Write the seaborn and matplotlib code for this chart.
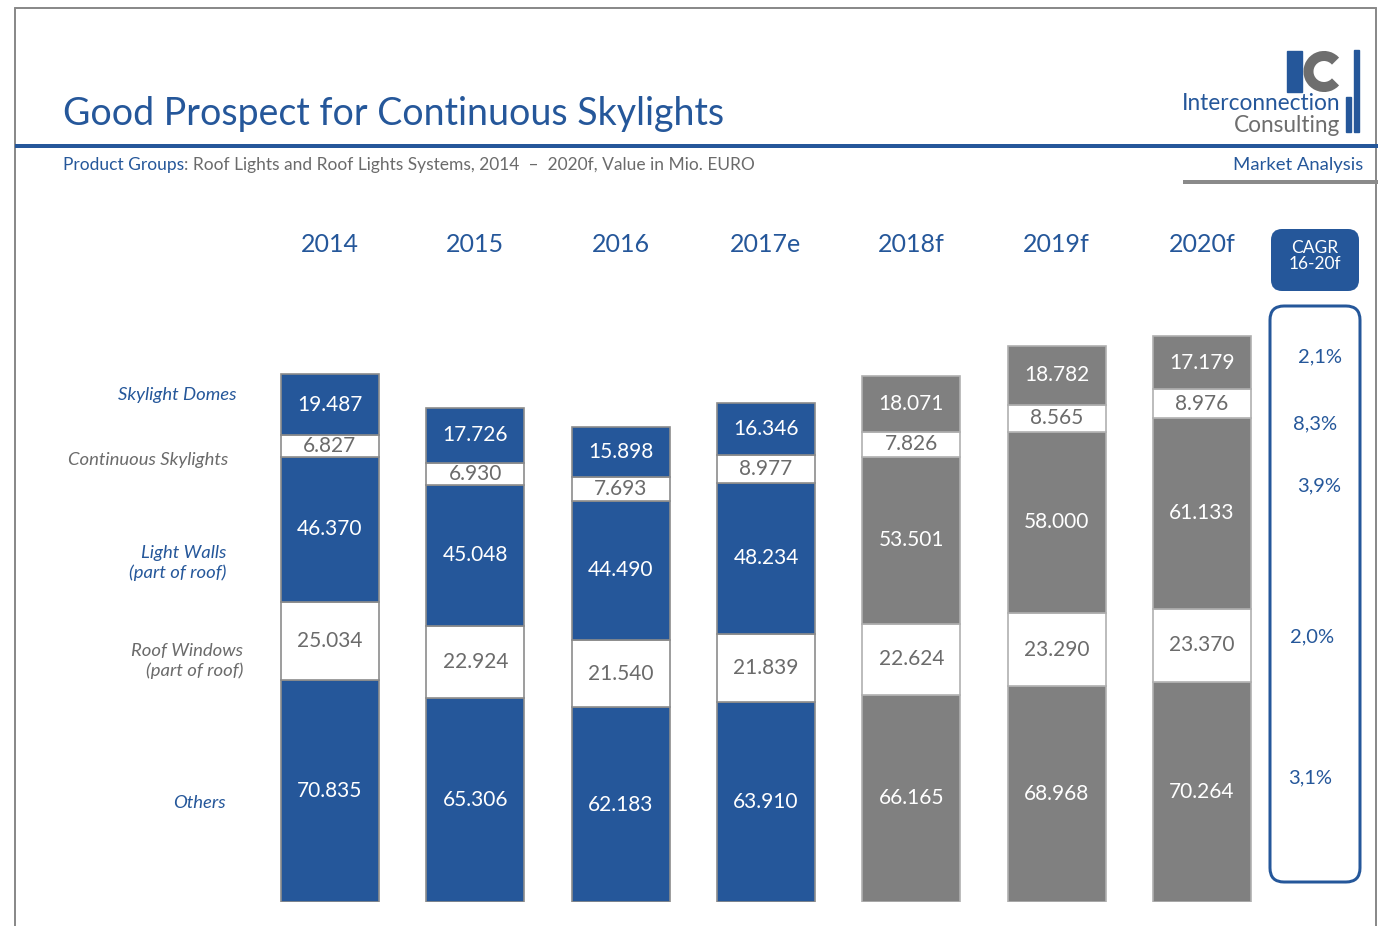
import matplotlib
matplotlib.use("Agg")
import matplotlib.pyplot as plt
from matplotlib.patches import FancyBboxPatch, Rectangle, Arc
import numpy as np
import seaborn as sns

# data, Mio. EURO
years = ['2014', '2015', '2016', '2017e', '2018f', '2019f', '2020f']
others = [70.835, 65.306, 62.183, 63.910, 66.165, 68.968, 70.264]
roof_windows = [25.034, 22.924, 21.540, 21.839, 22.624, 23.290, 23.370]
light_walls = [46.370, 45.048, 44.490, 48.234, 53.501, 58.000, 61.133]
continuous = [6.827, 6.930, 7.693, 8.977, 7.826, 8.565, 8.976]
domes = [19.487, 17.726, 15.898, 16.346, 18.071, 18.782, 17.179]
segment_names = ['Others', 'Roof Windows\n(part of roof)', 'Light Walls\n(part of roof)',
                 'Continuous Skylights', 'Skylight Domes']
cagr = ['3,1%', '2,0%', '3,9%', '8,3%', '2,1%']  # bottom to top
n_actual = 4  # 2014..2017e in blue, forecasts in gray

BLUE = '#25579a'
GREY = '#808080'
TXT_GREY = '#6b6b6b'

sns.set_theme(style="white")
plt.rcParams['font.family'] = ['Lato', 'DejaVu Sans']

W, H = 1378, 926
fig = plt.figure(figsize=(W / 100, H / 100), dpi=100)

# overlay in pixel coordinates for the slide decoration
deco = fig.add_axes([0, 0, 1, 1])
deco.set_xlim(0, W)
deco.set_ylim(H, 0)
deco.axis('off')

lw = 0.72  # points per pixel
deco.plot([15, 15], [8, H], color='#8a8a8a', lw=2 * lw)
deco.plot([15, 1376], [8, 8], color='#8a8a8a', lw=2 * lw)
deco.plot([1376, 1376], [8, H], color='#8a8a8a', lw=2 * lw)
deco.plot([15, W], [146, 146], color=BLUE, lw=4 * lw, solid_capstyle='butt')
deco.plot([1183, W], [182, 182], color='#8a8a8a', lw=4 * lw, solid_capstyle='butt')

deco.text(63, 114, 'Good Prospect for Continuous Skylights', fontsize=27,
          color=BLUE, ha='left', va='center')
t1 = deco.text(63, 165, 'Product Groups', fontsize=12.5, color=BLUE, ha='left', va='center')
deco.annotate(': Roof Lights and Roof Lights Systems, 2014  \u2013  2020f, Value in Mio. EURO',
              xy=(1, 0), xycoords=t1, va='bottom', ha='left', fontsize=12.5, color=TXT_GREY)
deco.text(1363, 165, 'Market Analysis', fontsize=13.3, color=BLUE, ha='right', va='center')

# logo: "I" bar, "C" arc and two vertical rules
deco.add_patch(Rectangle((1287, 51), 15, 41, color=BLUE))
deco.add_patch(Arc((1324, 71.5), 31, 31, theta1=42, theta2=318, color='#6e6e6e',
                   lw=10 * lw, capstyle='butt'))
deco.add_patch(Rectangle((1354, 50), 5, 82, color=BLUE))
deco.add_patch(Rectangle((1346, 97), 5, 35, color=BLUE))
deco.text(1340, 104, 'Interconnection', fontsize=16.3, color=BLUE, ha='right', va='center')
deco.text(1340, 125, 'Consulting', fontsize=16.3, color='#6e6e6e', ha='right', va='center')

# CAGR boxes
deco.add_patch(FancyBboxPatch((1272, 230), 86, 60, boxstyle='round,pad=0,rounding_size=10',
                              facecolor=BLUE, edgecolor=BLUE, lw=2 * lw))
deco.text(1315, 256, 'CAGR\n16-20f', fontsize=12.5, color='white', ha='center', va='center',
          linespacing=1.0)
deco.add_patch(FancyBboxPatch((1270, 306), 90, 576, boxstyle='round,pad=0,rounding_size=14',
                              facecolor='white', edgecolor=BLUE, lw=3 * lw))
cagr_y = [778, 637, 486, 424, 357]
cagr_x = [1310, 1312, 1319, 1315, 1320]
for v, x, y in zip(cagr, cagr_x, cagr_y):
    deco.text(x, y, v, fontsize=14.5, color=BLUE, ha='center', va='center')

# left side segment labels
label_pos = [(226, 803, BLUE), (243, 661, TXT_GREY), (226, 563, BLUE),
             (228, 460, TXT_GREY), (236, 395, BLUE)]
for name, (x, y, c) in zip(segment_names, label_pos):
    deco.text(x, y, name, fontsize=13.3, style='italic', color=c, ha='right', va='center',
              linespacing=1.3)

# bar chart axes
step = 145.33
ppu = 3.13
left = 330 - 1.6 * step
ax = fig.add_axes([left / W, 1 - 902 / H, 8.2 * step / W, 190 * ppu / H])
ax.patch.set_visible(False)
ax.set_xlim(-1.6, 6.6)
ax.set_ylim(0, 190)
ax.axis('off')

x = np.arange(len(years))
base_cols = [BLUE if i < n_actual else GREY for i in range(len(years))]
edge_cols = ['#8c8c8c' if i < n_actual else '#b0b0b0' for i in range(len(years))]
series = [others, roof_windows, light_walls, continuous, domes]
filled = [True, False, True, False, True]
bottom = np.zeros(len(years))
for vals, fill in zip(series, filled):
    vals = np.array(vals)
    cols = base_cols if fill else ['white'] * len(years)
    ax.bar(x, vals, bottom=bottom, width=0.675, color=cols, edgecolor=edge_cols, linewidth=1.2)
    for i, v in enumerate(vals):
        ax.text(x[i], bottom[i] + v / 2, f'{v:.3f}', ha='center', va='center',
                fontsize=15, color='white' if fill else TXT_GREY)
    bottom += vals

for i, yr in enumerate(years):
    ax.text(x[i], (902 - 245) / (190 * ppu), yr, transform=ax.get_xaxis_transform(),
            ha='center', va='center', fontsize=18, color=BLUE, clip_on=False)

fig.savefig('out.png', dpi=100)
